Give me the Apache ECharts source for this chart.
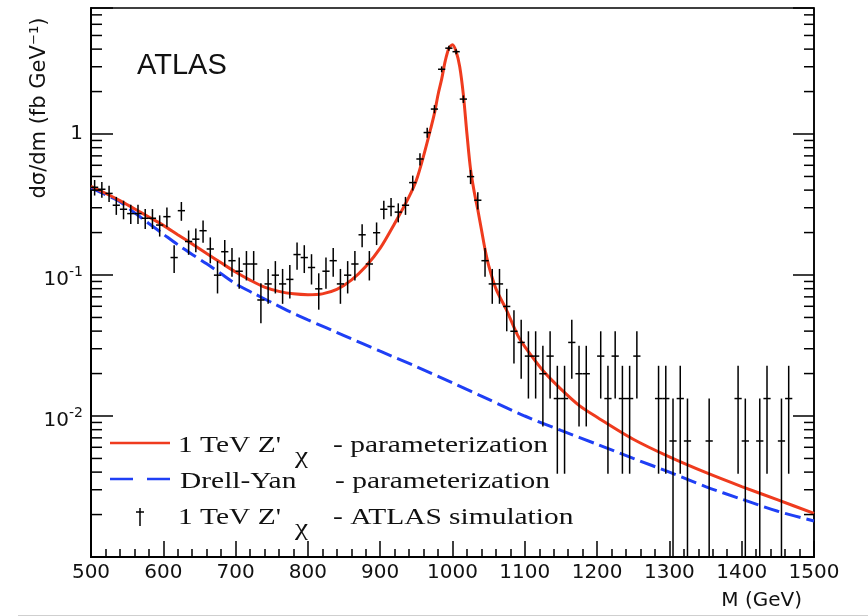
<!DOCTYPE html>
<html>
<head>
<meta charset="utf-8">
<script src="https://cdn.jsdelivr.net/npm/echarts@6/dist/echarts.min.js"></script>
<style>
  html, body { margin: 0; padding: 0; background: #fff; }
  #chart { width: 868px; height: 616px; }
</style>
</head>
<body>
<div id="chart"></div>
<script>
// Dilepton invariant-mass spectrum: 1 TeV Z'_chi signal shape, Drell-Yan shape,
// and simulated events (dsigma/dm in fb/GeV, log scale).

// Signal + background parameterization
const zPrimeMass = [500, 520, 540, 560, 580, 600, 620, 640, 660, 680, 700, 720, 740, 760, 780,
  800, 820, 840, 860, 880, 900, 920, 940, 950, 960, 970, 975, 980, 985, 990, 995, 1000,
  1005, 1010, 1015, 1020, 1025, 1030, 1035, 1040, 1045, 1050, 1060, 1075, 1090, 1100,
  1125, 1150, 1175, 1200, 1250, 1300, 1350, 1400, 1450, 1500];
const zPrimeXsec = [0.426, 0.38, 0.337, 0.295, 0.258, 0.225, 0.193, 0.166, 0.142, 0.122, 0.105,
  0.092, 0.082, 0.0765, 0.0735, 0.0725, 0.0735, 0.079, 0.092, 0.115, 0.155, 0.232, 0.36, 0.47,
  0.70, 1.10, 1.40, 1.90, 2.45, 3.30, 4.05, 4.30, 3.85, 3.00, 1.90, 1.00, 0.56, 0.39, 0.29,
  0.21, 0.152, 0.117, 0.080, 0.056, 0.0375, 0.031, 0.021, 0.0155, 0.0119, 0.0098, 0.00684,
  0.00513, 0.00398, 0.00316, 0.00254, 0.00204];

// Drell-Yan parameterization
const drellYanMass = [500, 520, 540, 560, 580, 600, 620, 640, 660, 680, 700, 725, 750, 775, 800,
  850, 900, 950, 1000, 1050, 1100, 1150, 1200, 1250, 1300, 1350, 1400, 1450, 1500];
const drellYanXsec = [0.415, 0.372, 0.331, 0.277, 0.232, 0.195, 0.164, 0.140, 0.120, 0.102,
  0.0867, 0.0741, 0.0638, 0.055, 0.0481, 0.0372, 0.0288, 0.0224, 0.0172, 0.0131, 0.0100,
  0.0079, 0.0063, 0.0050, 0.0040, 0.00316, 0.00257, 0.00211, 0.00180];

// Simulated events per 10 GeV bin
const binCenters = [
  505, 515, 525, 535, 545, 555, 565, 575, 585, 595,
  605, 615, 625, 635, 645, 655, 665, 675, 685, 695,
  705, 715, 725, 735, 745, 755, 765, 775, 785, 795,
  805, 815, 825, 835, 845, 855, 865, 875, 885, 895,
  905, 915, 925, 935, 945, 955, 965, 975, 985, 995,
  1005, 1015, 1025, 1035, 1045, 1055, 1065, 1075, 1085, 1095,
  1105, 1115, 1125, 1135, 1145, 1155, 1165, 1175, 1185, 1195,
  1205, 1215, 1225, 1235, 1245, 1255, 1265, 1275, 1285, 1295,
  1305, 1315, 1325, 1335, 1345, 1355, 1365, 1375, 1385, 1395,
  1405, 1415, 1425, 1435, 1445, 1455, 1465, 1475, 1485, 1495];
const binEvents = [
  63, 61, 57, 47, 44, 41, 41, 38, 38, 34,
  39, 20, 43, 26, 27, 31, 23, 15, 22, 19,
  16, 18, 18, 10, 13, 15, 13, 14, 21, 20,
  17, 12, 16, 19, 13, 15, 18, 29, 18, 30,
  44, 46, 42, 47, 68, 100, 154, 226, 433, 611,
  577, 266, 75, 51, 19, 13, 13, 9, 6, 5,
  4, 4, 3, 4, 2, 2, 5, 3, 3, 0,
  4, 2, 4, 2, 2, 4, 0, 0, 2, 2,
  1, 2, 1, 0, 0, 1, 0, 0, 0, 2,
  1, 0, 1, 2, 0, 1, 2, 0, 0, 0];
const EVENT_WEIGHT = 0.00665;   // fb/GeV carried by one simulated event
const BIN_WIDTH = 10;           // GeV

// Axis ranges and tick marks
const X_MIN = 500, X_MAX = 1500, X_STEP = 100;
const Y_MIN = 0.001, Y_MAX = 7.83;
const yDecadeLabels = { '0': '{b|1}', '-1': '{b|10}{s|-1}', '-2': '{b|10}{s|-2}' };
const yMinorTicks = [
  0.002, 0.003, 0.004, 0.005, 0.006, 0.007, 0.008, 0.009,
  0.02, 0.03, 0.04, 0.05, 0.06, 0.07, 0.08, 0.09,
  0.2, 0.3, 0.4, 0.5, 0.6, 0.7, 0.8, 0.9,
  2, 3, 4, 5, 6, 7];

const zPrimeColor = '#ef3b1e';
const drellYanColor = '#1f3ff5';

const pairs = (xs, ys) => xs.map((x, i) => [x, ys[i]]);

const eventPoints = [];
binCenters.forEach((m, i) => {
  const n = binEvents[i];
  if (n > 0) {
    const e = Math.sqrt(n);
    eventPoints.push([m, n * EVENT_WEIGHT, (n - e) * EVENT_WEIGHT, (n + e) * EVENT_WEIGHT]);
  }
});

const axisFont = 'DejaVu Sans';
const legendFont = 'Liberation Serif';
const legendScale = 1.28;

function legendText(txt, x, y, size) {
  return {
    type: 'text', x: x, y: y, scaleX: legendScale, silent: true,
    style: { text: txt, fill: '#111', font: (size || 23) + 'px "' + legendFont + '"',
             textAlign: 'left', verticalAlign: 'middle' }
  };
}

const chart = echarts.init(document.getElementById('chart'), null, { renderer: 'canvas' });

chart.setOption({
  animation: false,
  backgroundColor: '#fff',
  grid: { left: 91, right: 54, top: 8, bottom: 59, containLabel: false, outerBoundsMode: 'none',
          show: true, borderColor: '#000', borderWidth: 1.5, backgroundColor: 'transparent' },
  xAxis: {
    type: 'value', min: X_MIN, max: X_MAX, interval: X_STEP,
    axisLine: { show: true, onZero: false, lineStyle: { color: '#000', width: 2 } },
    axisTick: { show: true, inside: true, length: 16, lineStyle: { color: '#000', width: 1.5 } },
    minorTick: { show: true, splitNumber: 5, length: 8, lineStyle: { color: '#000', width: 1.5 } },
    splitLine: { show: false }, minorSplitLine: { show: false },
    axisLabel: { color: '#111', fontFamily: axisFont, fontSize: 20, margin: 6,
                 formatter: (v) => String(Math.round(v)) }
  },
  yAxis: [{
    type: 'log', logBase: 10, min: Y_MIN, max: Y_MAX, position: 'left',
    axisLine: { show: true, onZero: false, lineStyle: { color: '#000', width: 2 } },
    axisTick: { show: true, inside: true, length: 22, lineStyle: { color: '#000', width: 1.5 } },
    splitLine: { show: false },
    axisLabel: {
      color: '#111', margin: 8,
      formatter: (v) => {
        const p = Math.round(Math.log10(v));
        if (Math.abs(Math.log10(v) - p) > 1e-6) return '';
        return yDecadeLabels[String(p)] || '';
      },
      rich: {
        b: { fontFamily: axisFont, fontSize: 20, color: '#111', verticalAlign: 'bottom' },
        s: { fontFamily: axisFont, fontSize: 14, color: '#111', verticalAlign: 'top', padding: [5, 0, 10, 0] }
      }
    }
  }, {
    type: 'log', logBase: 10, min: Y_MIN, max: Y_MAX, position: 'right',
    axisLine: { show: true, onZero: false, lineStyle: { color: '#000', width: 1.5 } },
    axisTick: { show: true, inside: true, length: 21, lineStyle: { color: '#000', width: 1.5 } },
    axisLabel: { show: false },
    splitLine: { show: false }
  }],
  series: [
    {
      name: 'Drell-Yan - parameterization', type: 'line', data: pairs(drellYanMass, drellYanXsec),
      symbol: 'none', smooth: 0.3, z: 2,
      lineStyle: { color: drellYanColor, width: 3, type: [16, 6] }
    },
    {
      name: "1 TeV Z' - parameterization", type: 'line', data: pairs(zPrimeMass, zPrimeXsec),
      symbol: 'none', smooth: 0.3, z: 3,
      lineStyle: { color: zPrimeColor, width: 3 }
    },
    {
      name: "1 TeV Z' - ATLAS simulation", type: 'custom', z: 4, clip: true,
      data: eventPoints, encode: { x: 0, y: 1 },
      renderItem: (params, api) => {
        const m = api.value(0), v = api.value(1);
        const lo = Math.max(api.value(2), Y_MIN), hi = api.value(3);
        const c = api.coord([m, v]);
        const l = api.coord([m - BIN_WIDTH / 2, v]);
        const r = api.coord([m + BIN_WIDTH / 2, v]);
        const t = api.coord([m, hi]);
        const b = api.coord([m, lo]);
        const st = { stroke: '#000', lineWidth: 1.5 };
        return {
          type: 'group', children: [
            { type: 'line', shape: { x1: l[0], y1: c[1], x2: r[0], y2: c[1] }, style: st },
            { type: 'line', shape: { x1: c[0], y1: t[1], x2: c[0], y2: b[1] }, style: st }
          ]
        };
      }
    },
    {
      name: 'minor ticks', type: 'custom', z: 5, silent: true, clip: false,
      data: yMinorTicks.map(v => [X_MIN, v]), encode: { x: 0, y: 1 },
      renderItem: (params, api) => {
        const v = api.value(1);
        const L = api.coord([X_MIN, v]);
        const R = api.coord([X_MAX, v]);
        const st = { stroke: '#000', lineWidth: 1.5 };
        return {
          type: 'group', children: [
            { type: 'line', shape: { x1: L[0], y1: L[1], x2: L[0] + 11, y2: L[1] }, style: st },
            { type: 'line', shape: { x1: R[0] - 10, y1: R[1], x2: R[0], y2: R[1] }, style: st }
          ]
        };
      }
    }
  ],
  graphic: [
    { type: 'text', x: 137, y: 66, silent: true,
      style: { text: 'ATLAS', fill: '#111', font: '29px "Liberation Sans"', textAlign: 'left', verticalAlign: 'middle' } },
    { type: 'text', x: 40, y: 108, rotation: Math.PI / 2, silent: true,
      style: { text: 'dσ/dm (fb GeV⁻¹)', fill: '#111', font: '21px "DejaVu Sans"', textAlign: 'center', verticalAlign: 'middle' } },
    { type: 'text', x: 802, y: 601, silent: true,
      style: { text: 'M (GeV)', fill: '#111', font: '20px "DejaVu Sans"', textAlign: 'right', verticalAlign: 'middle' } },
    // legend
    { type: 'line', silent: true, shape: { x1: 110, y1: 443, x2: 170, y2: 443 },
      style: { stroke: zPrimeColor, lineWidth: 2.5 } },
    legendText("1 TeV Z'", 178, 446),
    legendText('χ', 295, 457),
    legendText('- parameterization', 333, 446),
    { type: 'line', silent: true, shape: { x1: 110, y1: 479, x2: 170, y2: 479 },
      style: { stroke: drellYanColor, lineWidth: 2.5, lineDash: [23, 14] } },
    legendText('Drell-Yan', 180, 482),
    legendText('- parameterization', 335, 482),
    { type: 'line', silent: true, shape: { x1: 140, y1: 508, x2: 140, y2: 526 },
      style: { stroke: '#000', lineWidth: 1.5 } },
    { type: 'line', silent: true, shape: { x1: 136, y1: 512, x2: 144, y2: 512 },
      style: { stroke: '#000', lineWidth: 1.5 } },
    legendText("1 TeV Z'", 178, 518),
    legendText('χ', 295, 529),
    legendText('- ATLAS simulation', 333, 518),
    // page edge
    { type: 'line', silent: true, shape: { x1: 18, y1: 615.5, x2: 868, y2: 615.5 },
      style: { stroke: '#cfcfcf', lineWidth: 1 } }
  ]
});
</script>
</body>
</html>
